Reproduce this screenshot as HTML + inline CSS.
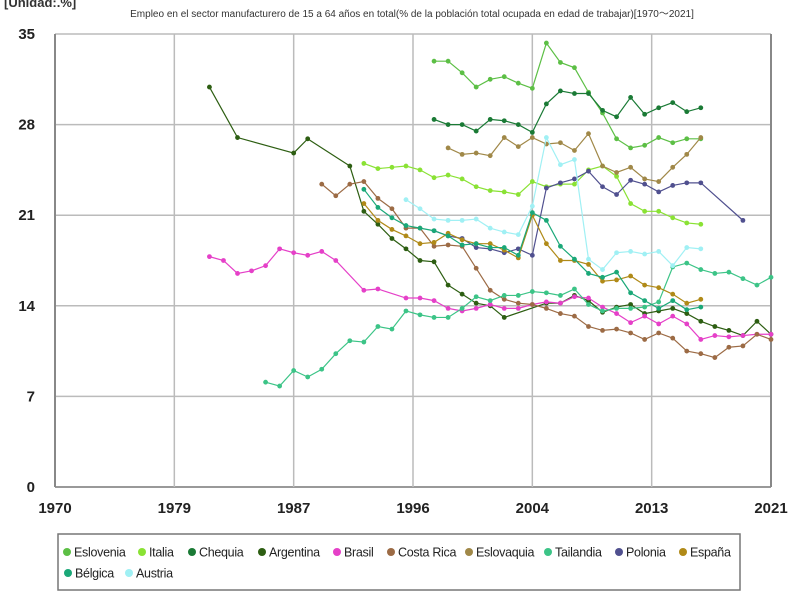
<!DOCTYPE html>
<html><head><meta charset="utf-8"><style>
body{margin:0;background:#fff;font-family:"Liberation Sans",sans-serif;}
#wrap{position:relative;width:800px;height:600px;overflow:hidden;}
svg text{font-family:"Liberation Sans",sans-serif;}
</style></head><body>
<div id="wrap">
<svg id="chart" width="800" height="600">
<text x="4" y="7" font-size="13" font-weight="bold" fill="#333">[Unidad:.%]</text>
<text x="412" y="17" font-size="10" fill="#333" text-anchor="middle">Empleo en el sector manufacturero de 15 a 64 años en total(% de la población total ocupada en edad de trabajar)[1970～2021]</text>
<g id="grid"></g><g id="series"></g>
<rect x="58" y="534" width="682" height="56" fill="none" stroke="#777" stroke-width="1.5"/>
<g id="legend"></g>
</svg>
</div>
<script>
const yTicks=[0,7,14,21,28,35];
const xTickLabels=["1970","1979","1987","1996","2004","2013","2021"];
const names=["Eslovenia","Italia","Chequia","Argentina","Brasil","Costa Rica","Eslovaquia","Tailandia","Polonia","España","Bélgica","Austria"];
const colors=["#5cbf45","#8ae234","#1a7a35","#2d5e12","#e540c8","#9c6b45","#a08848","#3cc487","#50508f","#b08a18","#1aa878","#a0f0f4"];
const startYears=[1997,1992,1997,1981,1981,1989,1998,1985,1997,1992,1992,1995];
const sEslovenia=[32.9,32.9,32.0,30.9,31.5,31.7,31.2,30.8,34.3,32.8,32.4,30.5,28.9,26.9,26.2,26.4,27.0,26.6,26.9,26.9];
const sItalia=[25.0,24.6,24.7,24.8,24.5,23.9,24.1,23.8,23.2,22.9,22.8,22.6,23.6,23.2,23.4,23.4,24.5,24.8,24.0,21.9,21.3,21.3,20.8,20.4,20.3];
const sChequia=[28.4,28.0,28.0,27.5,28.4,28.3,28.0,27.4,29.6,30.6,30.4,30.4,29.1,28.6,30.1,28.8,29.3,29.7,29.0,29.3];
const sArgentina=[30.9,null,27.0,null,null,null,25.8,26.9,null,null,24.8,21.3,20.3,19.2,18.4,17.5,17.4,15.6,14.9,14.2,14.0,13.1,null,null,14.2,14.2,14.8,14.4,13.5,13.9,14.1,13.4,13.6,13.8,13.4,12.8,12.4,12.1,11.7,12.8,11.8];
const sBrasil=[17.8,17.5,16.5,16.7,17.1,18.4,18.1,17.9,18.2,17.5,null,15.2,15.3,null,14.6,14.6,14.4,13.8,13.6,13.8,14.1,13.8,13.8,14.1,14.3,14.2,14.7,14.6,13.9,13.4,12.7,13.2,12.6,13.2,12.6,11.4,11.7,11.6,11.7,11.8,11.8];
const sCostaRica=[23.4,22.5,23.4,23.6,22.3,21.5,20.0,20.0,18.6,18.7,18.6,16.9,15.2,14.5,14.2,14.1,13.8,13.4,13.2,12.4,12.1,12.2,11.9,11.4,11.9,11.5,10.5,10.3,10.0,10.8,10.9,11.8,11.4];
const sEslovaquia=[26.2,25.7,25.8,25.6,27.0,26.3,27.0,26.5,26.6,26.0,27.3,24.8,24.3,24.7,23.8,23.6,24.7,25.7,27.0];
const sTailandia=[8.1,7.8,9.0,8.5,9.1,10.3,11.3,11.2,12.4,12.2,13.6,13.3,13.1,13.1,13.8,14.7,14.4,14.8,14.8,15.1,15.0,14.8,15.3,14.1,13.6,13.8,13.8,13.9,14.3,17.0,17.3,16.8,16.5,16.6,16.1,15.6,16.2];
const sPolonia=[19.8,19.4,19.2,18.5,18.4,18.1,18.4,17.9,23.1,23.5,23.8,24.4,23.2,22.6,23.7,23.4,22.8,23.3,23.5,23.5,null,null,20.6];
const sEspana=[21.9,20.6,19.9,19.4,18.8,18.9,19.6,19.1,18.8,18.8,18.3,17.7,21.0,18.8,17.5,17.5,17.2,15.9,16.0,16.3,15.6,15.4,14.9,14.2,14.5];
const sBelgica=[23.0,21.6,20.8,20.2,20.0,19.8,19.4,18.7,18.8,18.5,18.5,17.9,21.2,20.6,18.6,17.6,16.5,16.2,16.6,15.0,14.4,13.8,14.4,13.7,13.9];
const sAustria=[22.2,21.5,20.7,20.6,20.6,20.7,20.0,19.7,19.5,21.7,27.0,24.9,25.3,17.6,16.8,18.1,18.2,18.0,18.2,17.1,18.5,18.4];
const allSeries=[sEslovenia,sItalia,sChequia,sArgentina,sBrasil,sCostaRica,sEslovaquia,sTailandia,sPolonia,sEspana,sBelgica,sAustria];
const NS="http://www.w3.org/2000/svg";
const X0=55,X1=771,Y0=487,Y1=34,yearMin=1970,yearMax=2021,vMax=35;
function xs(yr){return X0+(yr-yearMin)*(X1-X0)/(yearMax-yearMin);}
function ys(v){return Y0-v*(Y0-Y1)/vMax;}
function mk(tag,attrs,parent){const e=document.createElementNS(NS,tag);for(const k in attrs)e.setAttribute(k,attrs[k]);parent.appendChild(e);return e;}
const grid=document.getElementById('grid');
yTicks.forEach((t,i)=>{
  const l=mk('line',{x1:X0,x2:X1,y1:ys(t),y2:ys(t),stroke:i===0?'#999':'#bbb','stroke-width':i===0?2:1.5},grid);
  
  
  const tx=mk('text',{x:35,y:ys(t)+5,'font-size':15,'font-weight':'bold',fill:'#222','text-anchor':'end'},grid);
  tx.textContent=t;
  
  
});
xTickLabels.forEach((lab,i)=>{
  const x=X0+i*(X1-X0)/(xTickLabels.length-1);
  const l=mk('line',{x1:x,x2:x,y1:Y1,y2:Y0,stroke:(i===0||i===xTickLabels.length-1)?'#888':'#bbb','stroke-width':i===0||i===6?2:1.5},grid);
  
  
  const tx=mk('text',{x:x,y:513,'font-size':15,'font-weight':'bold',fill:'#222','text-anchor':'middle'},grid);
  tx.textContent=lab;
  
  
});
const sg=document.getElementById('series');
allSeries.forEach((arr,si)=>{
  const g=mk('g',{},sg);
  
  
  const pts=[];
  arr.forEach((v,i)=>{if(v!==null)pts.push([xs(startYears[si]+i),ys(v)]);});
  const p=mk('polyline',{points:pts.map(p=>p.join(',')).join(' '),fill:'none',stroke:colors[si],'stroke-width':1.2},g);
  
  
  pts.forEach(pt=>{
    const c=mk('circle',{cx:pt[0],cy:pt[1],r:2.4,fill:colors[si]},g);
    
    
  });
});
const legPos=[[67,552],[142,552],[192,552],[262,552],[337,552],[391,552],[469,552],[548,552],[619,552],[683,552],[68,573],[129,573]];
const lg=document.getElementById('legend');
names.forEach((n,i)=>{
  const g=mk('g',{},lg);
  
  
  mk('circle',{cx:legPos[i][0],cy:legPos[i][1],r:4,fill:colors[i]},g);
  const t=mk('text',{x:legPos[i][0]+7,y:legPos[i][1]+4.5,'font-size':12.5,fill:'#222'},g);
  t.setAttribute('style','letter-spacing:-0.3px');
  t.textContent=n;
});
</script>
</body></html>
